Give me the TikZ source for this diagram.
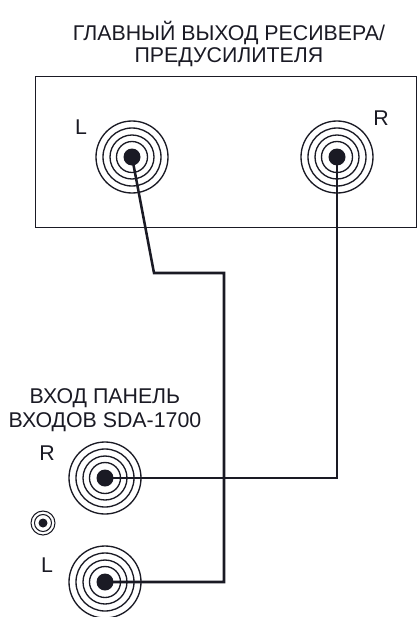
\documentclass[tikz,border=0pt]{standalone}
\usepackage{fontspec}
\setmainfont{Liberation Sans}
\definecolor{ink}{HTML}{1A1A24}
\tikzset{
  ring/.style={circle,draw=ink,line width=1pt,inner sep=0pt,outer sep=0pt,minimum size=#1*0.75pt},
  pin/.style={circle,fill=ink,inner sep=0pt,outer sep=0pt,minimum size=#1*0.75pt},
  wire/.style={draw=ink,line width=1.9pt,line join=miter},
  lbl/.style={text=ink,font=\fontsize{16pt}{18pt}\selectfont,align=center,inner sep=0pt}
}
\newcommand{\jack}[2]{%
  \node[ring=72] at (#1) {};
  \node[ring=58] at (#1) {};
  \node[ring=44] at (#1) {};
  \node[ring=31] at (#1) {};
  \node[pin=17] (#2) at (#1) {};
}
\begin{document}
\begin{tikzpicture}[x=0.75pt,y=-0.75pt]
\useasboundingbox (0,0) rectangle (417,617);
\draw[draw=ink,line width=0.7pt] (35,76) rectangle (416,227);
\node[lbl,font=\fontsize{16pt}{16.5pt}\selectfont] (title) at (229,44) {ГЛАВНЫЙ ВЫХОД РЕСИВЕРА/\\ПРЕДУСИЛИТЕЛЯ};
\node[lbl] (input) at (105,410) {ВХОД ПАНЕЛЬ\\ВХОДОВ SDA-1700};
\node[lbl] (tl) at (81,127) {L};
\node[lbl] (tr) at (381,118) {R};
\node[lbl] (bl) at (47,565) {L};
\node[lbl] (br) at (47,453) {R};
\jack{132,157}{a}
\jack{337,157}{b}
\jack{105,478}{c}
\jack{105,582}{d}
\node[ring=24,line width=0.8pt] (s1) at (43,523) {};
\node[ring=17,line width=0.8pt] (s2) at (43,523) {};
\node[pin=9] (s3) at (43,523) {};
\coordinate (k1) at (154,273);
\coordinate (k2) at (224,273);
\coordinate (k3) at (224,582);
\coordinate (k4) at (337,478);
\draw[wire] (a.center) -- (k1) -- (k2) -- (k3) -- (d.center);
\draw[wire] (b.center) -- (k4) -- (c.center);
\end{tikzpicture}
\end{document}
